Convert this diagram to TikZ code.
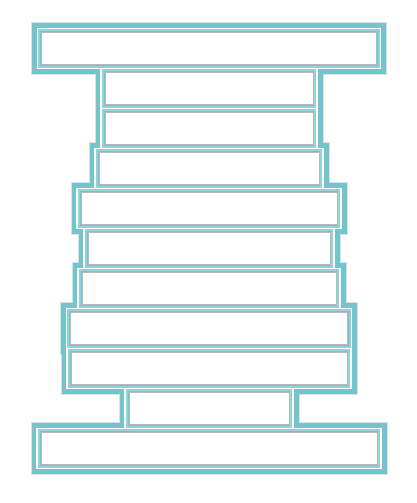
\documentclass[tikz,border=0pt]{standalone}
\definecolor{tealA}{RGB}{112,198,204}
\definecolor{tealB}{RGB}{140,213,217}
\definecolor{shade}{RGB}{185,185,185}
\tikzset{
  fringe/.style={fill=gray!25},
  outerband/.style={fill=tealA},
  gapline/.style={draw=white,line width=1.3pt},
  innerline/.style={draw=tealB,line width=2pt},
  shadowline/.style={draw=shade,line width=0.9pt},
  interior/.style={fill=white}
}
\begin{document}
\begin{tikzpicture}[x=1pt,y=-1pt]
\useasboundingbox (0,0) rectangle (416,503);
\def\bricks{168/0, 104.5/1, 104.5/2, 110.5/3, 128.5/4, 121.5/5, 127.5/6, 139/7, 138.5/8, 80.5/9, 168.5/10}
\def\cx{209}
% gray fringe
\foreach \w/\k in \bricks {
  \fill[fringe] ({\cx-\w-10},{32+40*\k-10}) rectangle ({\cx+\w+10},{65+40*\k+10});
}
% outer teal band
\foreach \w/\k in \bricks {
  \fill[outerband] ({\cx-\w-9},{32+40*\k-9}) rectangle ({\cx+\w+9},{65+40*\k+9});
}
% white separating line
\foreach \w/\k in \bricks {
  \draw[gapline] ({\cx-\w-3.6},{32+40*\k-3.6}) rectangle ({\cx+\w+3.6},{65+40*\k+3.6});
}
% inner teal line
\foreach \w/\k in \bricks {
  \draw[innerline] ({\cx-\w-1.8},{32+40*\k-1.8}) rectangle ({\cx+\w+1.8},{65+40*\k+1.8});
}
% interior with gray inner edge
\foreach \w/\k in \bricks {
  \fill[interior] ({\cx-\w},{32+40*\k}) rectangle ({\cx+\w},{65+40*\k});
  \draw[shadowline] ({\cx-\w+0.45},{32+40*\k+0.45}) rectangle ({\cx+\w-0.45},{65+40*\k-0.45});
}
\end{tikzpicture}
\end{document}
